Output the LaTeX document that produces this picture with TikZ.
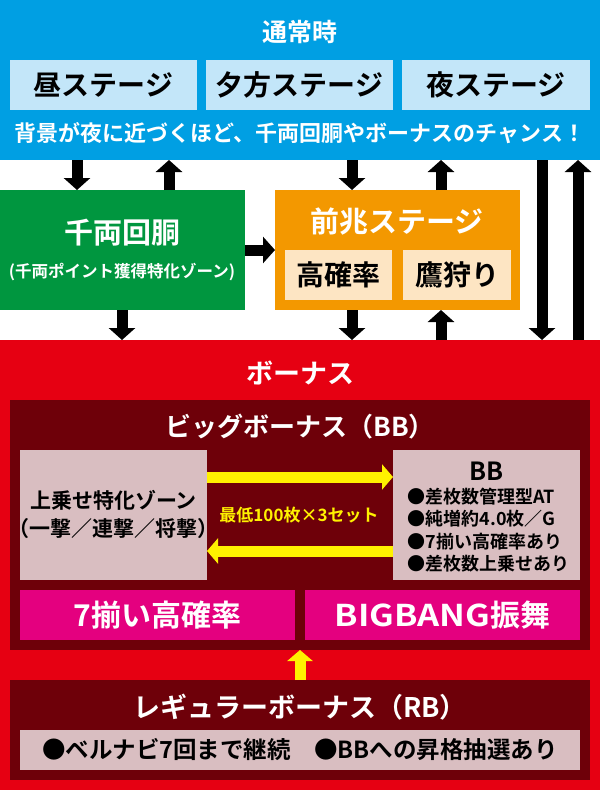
\documentclass[tikz,border=0pt]{standalone}
\usepackage{fontspec}
\setmainfont{Noto Sans CJK JP}[BoldFont=* Bold]
\usetikzlibrary{arrows.meta}

\definecolor{tsujo}{HTML}{009FE3}
\definecolor{stagebg}{HTML}{C3E6F9}
\definecolor{senryo}{HTML}{00963F}
\definecolor{zencho}{HTML}{F39800}
\definecolor{zenchobg}{HTML}{FDE5C3}
\definecolor{bonusred}{HTML}{E60012}
\definecolor{bonusdark}{HTML}{6E0009}
\definecolor{bonuspink}{HTML}{D9BEC1}
\definecolor{bonusmag}{HTML}{E4007F}
\definecolor{kiiro}{HTML}{FFF100}

\begin{document}
\begin{tikzpicture}[x=1pt,y=-1pt,
    area/.style 2 args={minimum width=#1,minimum height=#2,inner sep=0pt,outer sep=0pt},
    jp/.style={font=\fontsize{#1}{#1}\selectfont\bfseries},
    blk/.style={line width=11pt,-{Triangle[length=12pt 0 0,width=26pt 0 0]}},
    yel/.style={draw=kiiro,line width=11pt,-{Triangle[length=11pt 0 0,width=25pt 0 0]}}]
    \useasboundingbox (0,0) rectangle (600,790);
    %% normal
    \node[area={600}{160},fill=tsujo] (normal) at (300,80) {};
    \node[jp=25,text=white] (t-normal) at (300,32) {通常時};
    \node[area={187}{50},fill=stagebg,jp=28] (hiru) at (103.5,85) {昼ステージ};
    \node[area={187}{50},fill=stagebg,jp=28] (yugata) at (299.5,85) {夕方ステージ};
    \node[area={188}{50},fill=stagebg,jp=28] (yoru) at (496,85) {夜ステージ};
    \node[jp=22,text=white] (hint) at (300,133) {背景が夜に近づくほど、千両回胴やボーナスのチャンス！};
    %%
    \node[area={245}{120},fill=senryo] (senryo) at (122.5,250) {};
    \node[jp=29,text=white] (t-senryo) at (122,233) {千両回胴};
    \node[jp=16.5,text=white] (s-senryo) at (122,272) {(千両ポイント獲得特化ゾーン)};
    \node[area={245}{120},fill=zencho] (zencho) at (397.5,250) {};
    \node[jp=29,text=white] (t-zencho) at (397,222) {前兆ステージ};
    \node[area={107}{50},fill=zenchobg,jp=28] (koukaku) at (338.5,275) {高確率};
    \node[area={108}{50},fill=zenchobg,jp=28] (takagari) at (457,275) {鷹狩り};
    %% bonus
    \node[area={600}{450},fill=bonusred] (bonus) at (300,565) {};
    \node[jp=27,text=white] (t-bonus) at (300,373) {ボーナス};
    \node[area={580}{250},fill=bonusdark] (bb) at (300,525) {};
    \node[jp=26,text=white] (t-bb) at (300,427) {ビッグボーナス（BB）};
    \node[area={187}{130},fill=bonuspink] (zone) at (113.5,515) {};
    \node[align=center,font=\fontsize{21}{28}\selectfont\bfseries] (t-zone) at (113.5,514) {上乗せ特化ゾーン\\（一撃／連撃／将撃）};
    \node[area={187}{130},fill=bonuspink] (bbinfo) at (486.5,515) {};
    \node[jp=25] (t-bbinfo) at (486.5,471) {BB};
    \node[anchor=west,align=left,font=\fontsize{18}{22.5}\selectfont\bfseries] (s-bbinfo) at (404,530) {●差枚数管理型AT\\●純増約4.0枚／G\\●7揃い高確率あり\\●差枚数上乗せあり};
    \node[area={275}{50},fill=bonusmag,jp=30,text=white] (seven) at (157.5,615) {7揃い高確率};
    \node[area={275}{50},fill=bonusmag,jp=30,text=white] (bigbang) at (442.5,615) {\scalebox{1.15}[1]{BIGBANG}振舞};
    \node[area={580}{100},fill=bonusdark] (rb) at (300,730) {};
    \node[jp=27,text=white] (t-rb) at (300,707) {レギュラーボーナス（RB）};
    \node[area={560}{40},fill=bonuspink,jp=23.5] (rbinfo) at (300,750) {●ベルナビ7回まで継続\hspace{1em}●BBへの昇格抽選あり};
    %% BB loop
    \draw[yel] (zone.east |- 0,477) -- (bbinfo.west |- 0,477);
    \draw[yel] (bbinfo.west |- 0,551) -- (zone.east |- 0,551);
    \node[jp=17,text=kiiro] (set) at (299,515) {最低100枚×3セット};
    \draw[yel] (rb.north) -- (bb.south);
    %% flow
    \draw[blk] (normal.south -| 77,0) -- (senryo.north -| 77,0);
    \draw[blk] (senryo.north -| 169,0) -- (normal.south -| 169,0);
    \draw[blk] (normal.south -| 352,0) -- (zencho.north -| 352,0);
    \draw[blk] (zencho.north -| 441,0) -- (normal.south -| 441,0);
    \draw[blk] (normal.south -| 542,0) -- (bonus.north -| 542,0);
    \draw[blk] (bonus.north -| 578,0) -- (normal.south -| 578,0);
    \draw[blk] (senryo.east) -- (zencho.west);
    \draw[blk] (senryo.south -| 122,0) -- (bonus.north -| 122,0);
    \draw[blk] (zencho.south -| 352,0) -- (bonus.north -| 352,0);
    \draw[blk] (bonus.north -| 441,0) -- (zencho.south -| 441,0);
\end{tikzpicture}
\end{document}
